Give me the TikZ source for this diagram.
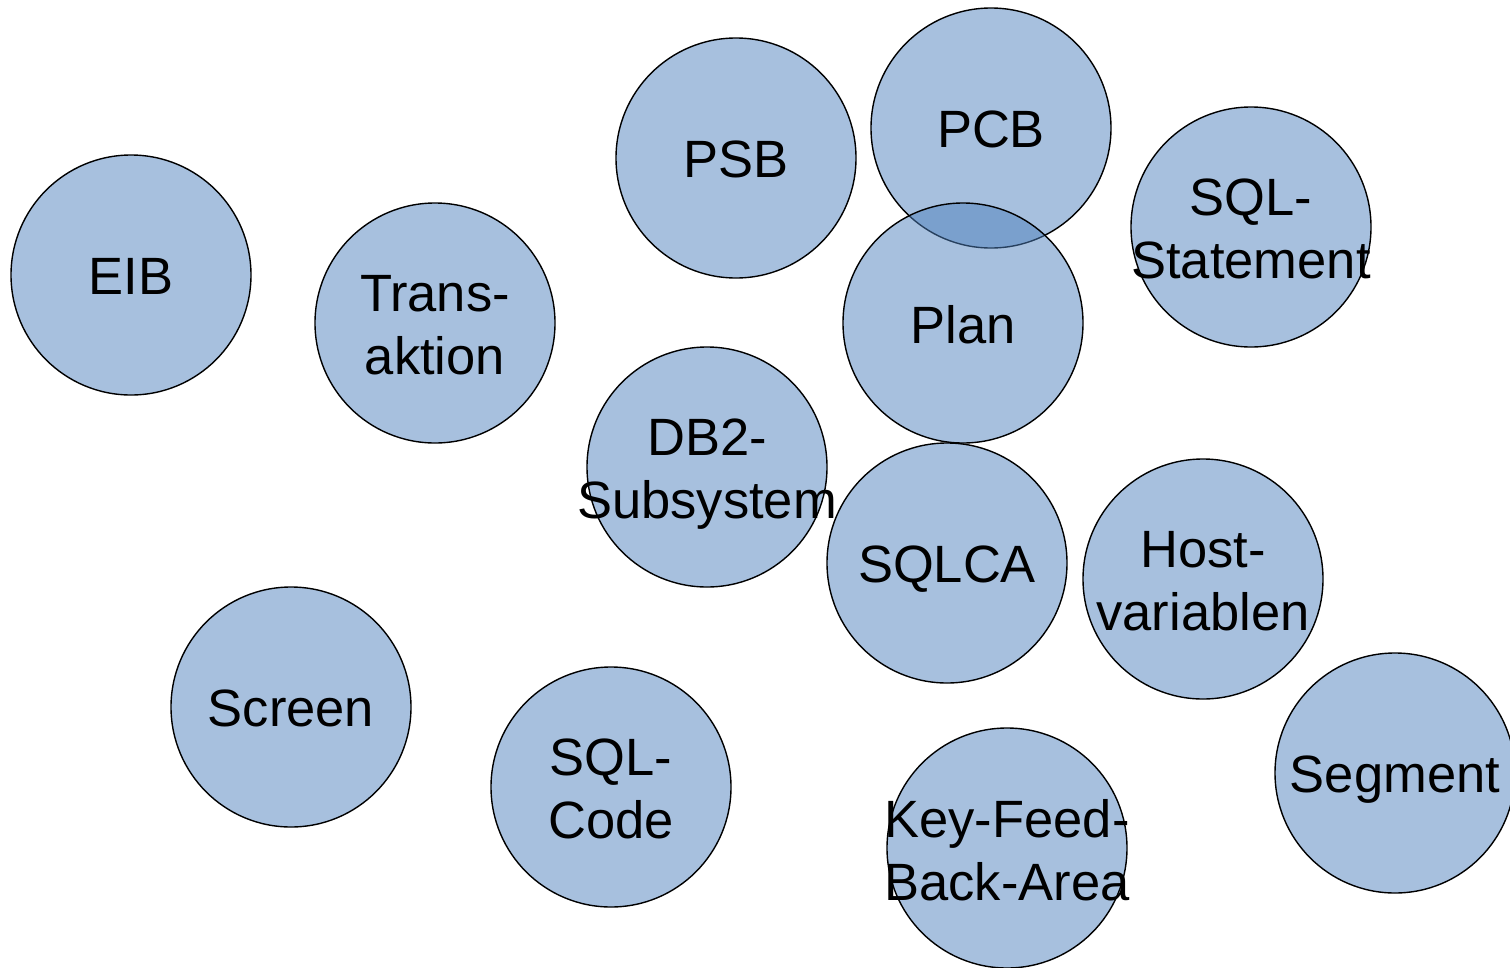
\documentclass[tikz,border=0pt]{standalone}
\usepackage{fontspec}
\setmainfont{Liberation Sans}
\usepackage{tikz}
\usetikzlibrary{positioning}
\definecolor{BubbleBlue}{HTML}{4F81BD}
\definecolor{BubbleInk}{HTML}{000000}

\begin{document}
\begin{tikzpicture}[x=1pt,y=-1pt,
  bubble/.style={circle,draw=BubbleInk,line width=1.4pt,fill=BubbleBlue,
    fill opacity=.5,minimum size=240pt,inner sep=0pt},
  term/.style={align=center,font=\fontsize{52.5}{63}\selectfont,inner sep=0pt,
    text depth=0pt,yshift=-1.5pt}]
  \useasboundingbox (0,0) rectangle (1510,967);
  % one bubble per term
  \foreach \n/\x/\y/\lab in {eib/131/275/EIB,
      trans/435/323/{Trans-\\aktion},
      psb/736/158/PSB,
      pcb/991/128/PCB,
      plan/963/323/Plan,
      sqlstmt/1251/227/{SQL-\\Statement},
      dbsub/707/467/{DB2-\\Subsystem},
      sqlca/947/563/SQLCA,
      hostvar/1203/579/{Host-\\variablen},
      screen/291/707/Screen,
      sqlcode/611/787/{SQL-\\Code},
      keyfb/1007/848/{Key-Feed-\\Back-Area},
      segment/1395/773/Segment}
  {
    \node[bubble] (\n) at (\x,\y) {};
    \node[term] (\n-text) at (\n) {\lab};
  }
\end{tikzpicture}
\end{document}
